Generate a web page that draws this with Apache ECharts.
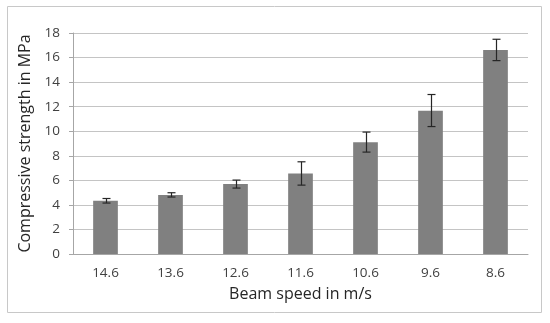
<!DOCTYPE html>
<html><head><meta charset="utf-8">
<script src="https://cdn.jsdelivr.net/npm/echarts@6/dist/echarts.min.js"></script>
<style>html,body{margin:0;padding:0;background:#fff}#c{width:550px;height:323px}</style>
</head><body><div id="c"></div>
<script>
const categories = ['14.6','13.6','12.6','11.6','10.6','9.6','8.6'];
const strength = [4.33, 4.80, 5.70, 6.56, 9.11, 11.66, 16.62];
const errLow = [4.15, 4.64, 5.37, 5.61, 8.30, 10.38, 15.75];
const errHigh = [4.52, 4.99, 6.02, 7.51, 9.93, 12.99, 17.49];

const chart = echarts.init(document.getElementById('c'));
const font = 'Open Sans, Liberation Sans, sans-serif';
chart.setOption({
  animation: false,
  graphic: [{type:'rect', shape:{x:7.5,y:6.5,width:534,height:306}, style:{fill:'none', stroke:'#c8c8c8', lineWidth:1}, silent:true}],
  grid: {left: 73, right: 22, top: 33, bottom: 69},
  xAxis: {
    type: 'category', data: categories,
    name: 'Beam speed in m/s', nameLocation: 'middle', nameGap: 32,
    nameTextStyle: {fontFamily: font, fontSize: 16, color: '#262626'},
    axisLine: {lineStyle: {color: '#a6a6a6'}},
    axisTick: {show: false},
    axisLabel: {fontFamily: font, fontSize: 13.5, color: '#404040', margin: 12}
  },
  yAxis: {
    type: 'value', min: 0, max: 18, interval: 2,
    name: 'Compressive strength in MPa', nameLocation: 'middle', nameGap: 38,
    nameTextStyle: {fontFamily: font, fontSize: 16, color: '#262626'},
    axisLine: {show: true, lineStyle: {color: '#a6a6a6'}},
    axisTick: {show: true, inside: false, length: 4, lineStyle: {color: '#a6a6a6'}},
    axisLabel: {fontFamily: font, fontSize: 13.5, color: '#404040', margin: 13},
    splitLine: {lineStyle: {color: '#c4c4c4', width: 1}}
  },
  series: [
    {type: 'bar', data: strength, barWidth: '38%', itemStyle: {color: '#808080'}},
    {
      type: 'custom',
      data: categories.map((c, i) => [i, errLow[i], errHigh[i]]),
      renderItem: function (params, api) {
        const lo = api.coord([api.value(0), api.value(1)]);
        const hi = api.coord([api.value(0), api.value(2)]);
        const x = Math.round(lo[0]) + 0.5;
        const hw = 4;
        const st = {stroke: '#262626', lineWidth: 1.2};
        return {type: 'group', children: [
          {type: 'line', shape: {x1: x, y1: hi[1], x2: x, y2: lo[1]}, style: st},
          {type: 'line', shape: {x1: x - hw, y1: hi[1], x2: x + hw, y2: hi[1]}, style: st},
          {type: 'line', shape: {x1: x - hw, y1: lo[1], x2: x + hw, y2: lo[1]}, style: st}
        ]};
      },
      z: 10
    }
  ]
});
</script></body></html>
